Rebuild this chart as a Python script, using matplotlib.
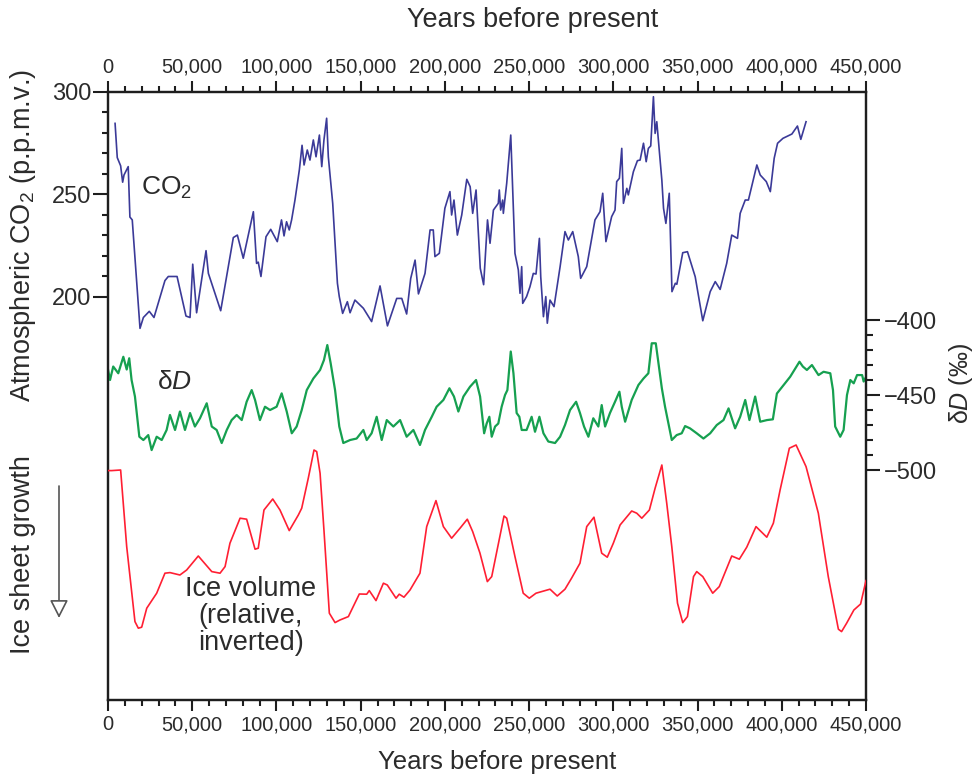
import numpy as np
import matplotlib
matplotlib.use("Agg")
import matplotlib.pyplot as plt
from matplotlib.ticker import FuncFormatter

plt.rcParams['font.family'] = ['Liberation Sans', 'DejaVu Sans']
plt.rcParams['mathtext.fontset'] = 'custom'
plt.rcParams['mathtext.rm'] = 'Liberation Sans'
plt.rcParams['mathtext.it'] = 'Liberation Sans:italic'

# --- data ---
# CO2, Vostok (kyr BP, ppmv)
co2_kyr = [4.2, 5.5, 7.5, 8.7, 9.5, 12.0, 13.0, 14.4, 19.0, 21.0, 24.5, 27.3, 33.8, 35.8,
           41.0, 46.3, 48.7, 50.3, 52.6, 58.2, 59.6, 66.9, 74.4, 76.8, 80.3, 86.3, 88.2,
           89.2, 90.8, 93.8, 96.6, 100.5, 103.0, 104.5, 106.0, 107.6, 109.0, 111.0, 113.6,
           115.2, 116.4, 118.3, 119.9, 121.9, 123.5, 125.5, 126.9, 128.2, 129.8, 130.8,
           133.4, 136.2, 137.3, 139.3, 142.1, 143.7, 146.6, 151.6, 156.5, 161.5, 165.9,
           171.4, 174.4, 177.3, 179.7, 182.3, 184.3, 188.2, 191.2, 193.1, 194.1, 196.7,
           200.0, 203.0, 204.0, 205.4, 207.4, 210.0, 213.0, 215.0, 216.5, 218.5, 221.0,
           223.0, 225.3, 226.8, 228.8, 231.7, 232.3, 233.1, 234.3, 234.7, 236.7, 239.1,
           241.6, 243.6, 244.6, 245.6, 246.2, 248.5, 250.5, 252.5, 254.1, 256.1, 256.9,
           258.5, 259.9, 260.8, 262.4, 264.8, 268.4, 271.3, 273.3, 275.9, 279.2, 280.6,
           284.2, 289.1, 292.1, 293.7, 295.6, 299.0, 301.0, 302.0, 303.6, 305.0, 306.0,
           308.0, 308.9, 311.9, 314.3, 315.9, 317.9, 319.5, 320.8, 322.2, 323.8, 324.8,
           325.8, 328.8, 329.8, 331.2, 333.2, 334.8, 336.8, 337.7, 341.2, 344.0, 348.6,
           353.1, 357.5, 360.5, 363.4, 367.3, 370.3, 373.7, 375.3, 378.3, 380.2, 385.2,
           387.2, 390.8, 393.2, 395.5, 397.5, 400.7, 406.0, 409.3, 411.3, 414.4]
co2_ppm = [284.7, 268, 264, 256, 259.5, 263.6, 239, 237.6, 184.7, 190, 193, 190, 208, 210,
           210, 190.7, 190, 216, 192.3, 222.6, 211.5, 193.3, 229, 230.2, 218.9, 241.6, 216.4,
           217, 210, 229.4, 233, 227, 237.6, 229.8, 236.7, 232.7, 237.6, 247.3, 262,
           274, 264.4, 271.7, 266.8, 276.6, 268.4, 279, 263.6, 276.6, 287.2, 268.4,
           245.7, 206.7, 200.2, 192, 197.7, 192.3, 198.5, 194.5, 188, 205.4, 185.9,
           199.3, 199.3, 191.7, 209, 218, 201.5, 211.5, 232.7, 232.7, 219.7, 221.3,
           243.3, 251.4, 240, 247.3, 230.2, 240, 257.4, 253.8, 240.8, 252.2, 214,
           206, 237.6, 226.2, 242.4, 245.7, 252.2, 242.4, 247.3, 240.8, 255.5, 279,
           221.3, 213.2, 201.8, 214.8, 196.9, 200.2, 205, 211.5, 211.2, 228.6, 209.9,
           190.4, 200.2, 187.2, 198.5, 195.3, 214.8, 231.9, 227.8, 231.9, 219.7, 209.1,
           214.8, 237.6, 241.6, 250.6, 227, 239.2, 242.4, 256.3, 257.9, 272.5, 245.7,
           253, 249.8, 261.1, 266.5, 266.8, 275, 266, 272.5, 273.7, 297.7, 279.8,
           285.5, 257, 243.3, 235.9, 250.6, 202.6, 206.7, 206.2, 221.6, 222.1, 209.9,
           188.4, 202.6, 207.5, 203.7, 216.4, 230.2, 228.6, 240.8, 247.3, 247.3, 264.4,
           259.5, 256.3, 251.4, 267.7, 275, 277.4, 279.5, 283.4, 276.9, 285.5]

# deuterium (kyr BP, per mil)
dd_kyr = [0.0, 1.2, 3.1, 6.1, 9.1, 11.1, 12.6, 14.0, 16.0, 18.6, 21.0, 23.9, 25.9, 28.9,
          31.9, 34.8, 36.8, 39.8, 42.7, 45.7, 48.7, 51.6, 54.6, 58.6, 61.6, 64.5, 67.5,
          70.5, 73.4, 76.4, 79.4, 82.3, 85.3, 87.3, 90.2, 93.2, 96.2, 100.1, 103.1, 106.1,
          109.1, 112.0, 115.0, 118.0, 121.9, 125.9, 128.2, 130.2, 132.2, 134.8, 137.3,
          139.7, 143.7, 147.6, 151.6, 153.6, 156.5, 159.5, 162.5, 165.5, 169.4, 173.4,
          177.3, 181.3, 185.2, 188.2, 192.2, 195.1, 199.1, 202.7, 205.4, 208.0, 211.0,
          214.9, 218.5, 220.9, 223.3, 224.8, 226.4, 227.8, 229.8, 231.7, 233.7, 235.7,
          237.1, 239.1, 240.7, 242.6, 244.2, 245.6, 248.5, 251.5, 253.5, 256.1, 258.5,
          261.4, 265.4, 268.4, 271.3, 274.3, 277.9, 280.2, 282.6, 285.2, 288.1, 291.1,
          293.1, 295.1, 298.0, 301.0, 303.6, 305.0, 307.0, 310.9, 314.9, 317.9, 320.8,
          322.8, 325.2, 326.8, 328.8, 330.7, 334.7, 337.6, 340.6, 342.6, 345.5, 349.5,
          353.5, 357.5, 361.4, 365.4, 368.4, 372.3, 375.3, 378.3, 380.8, 384.2, 387.2,
          391.2, 394.7, 397.1, 401.1, 405.0, 410.5, 412.5, 414.9, 417.9, 421.8, 424.8,
          428.8, 430.4, 431.7, 434.7, 436.7, 438.7, 440.7, 442.7, 444.7, 447.7, 448.6, 450.0]
dd_val = [-433, -440, -431, -435.5, -424.5, -433, -425.5, -440, -451, -477.8, -480, -476.7,
          -486.7, -477.8, -480, -473.3, -463.3, -473.3, -461, -473.3, -462, -471, -465.5,
          -455.5, -471, -473.3, -482, -473.3, -466.7, -463.3, -466.7, -454.5, -446.7,
          -453.3, -466.7, -457.8, -460, -457.8, -448.9, -461, -475.5, -471, -460, -446.7,
          -439, -433.3, -426.7, -416.7, -428.9, -446.7, -471, -482, -480, -479, -473.3,
          -480, -475.5, -464.5, -480, -466.7, -471, -466.7, -477.8, -473.3, -483.3,
          -473.3, -464.5, -457.8, -453.3, -445.5, -451, -461, -451, -444.5, -440, -451,
          -475.5, -469, -464.5, -477.8, -471, -469, -457.8, -450, -446.7, -421, -435.5,
          -462, -464.5, -473.3, -473.3, -464.5, -474.5, -464.5, -475.5, -481, -482,
          -477.8, -470, -460, -454.5, -462, -471, -477.8, -465.5, -471, -456.7, -471,
          -462, -454.5, -447.8, -457.8, -467.8, -453.3, -443.3, -439, -435.5, -415.5,
          -415.5, -428.9, -445.5, -457.8, -480, -476.7, -475.5, -470.7, -472.2, -475.5,
          -479, -475.5, -470, -466.7, -458.9, -472.2, -464.5, -453.3, -466.7, -451,
          -467.8, -466.7, -466.2, -449, -443.3, -437.8, -427.8, -431, -433.3, -430,
          -436.7, -434.5, -435.5, -446.7, -471, -477.8, -473.3, -450, -440, -442.2,
          -436.7, -436.7, -441, -438]

# ice volume, relative and inverted (arbitrary units)
ice_kyr = [0.0, 2.2, 7.5, 11.1, 16.0, 18.0, 20.0, 23.0, 28.9, 33.8, 36.8, 42.7, 46.7, 53.6,
           61.6, 66.5, 69.5, 72.4, 78.4, 82.3, 87.3, 89.2, 92.6, 97.8, 102.1, 107.6, 113.0,
           115.0, 118.9, 122.3, 123.9, 125.9, 128.2, 131.4, 134.8, 137.7, 142.7, 149.2,
           153.6, 155.1, 159.1, 163.5, 165.8, 171.0, 172.9, 175.7, 179.3, 185.2, 189.2,
           194.7, 199.1, 204.0, 209.0, 213.3, 216.5, 220.8, 225.2, 227.8, 235.1, 236.7,
           241.6, 246.5, 250.1, 254.1, 262.4, 266.7, 271.3, 275.2, 280.2, 284.2, 288.5,
           293.1, 296.4, 300.0, 304.0, 310.9, 313.9, 316.9, 321.4, 324.8, 328.8, 331.7,
           334.7, 338.1, 341.2, 344.0, 347.6, 349.5, 353.1, 359.0, 362.9, 370.3, 374.8,
           379.2, 384.7, 391.1, 395.0, 399.0, 404.5, 408.5, 414.4, 421.7, 427.6, 433.6,
           435.5, 438.5, 442.8, 446.8, 450.0]
ice_rel = [84.7, 84.7, 85, 46.7, 9.2, 5.9, 6.4, 15.9, 23.4, 33.4, 33.7, 32.5, 35, 42,
           34.2, 33.4, 36.7, 48.4, 60.9, 60.4, 45.4, 45.9, 65, 70.5, 65, 54.7, 62.5,
           65.9, 80.9, 95, 94.2, 83.4, 55, 13.4, 8.7, 10, 11.7, 23,
           22.9, 24.7, 19.7, 28.4, 27.5, 20.9, 22.9, 21.4, 25, 33.4, 56.7,
           69.7, 56.7, 50.9, 55.9, 60.4, 54.2, 43.5, 29.2, 31.7, 62, 60.9,
           41.7, 23.4, 20.9, 23.4, 25.4, 22, 25.4, 30.9, 38.4, 56.7, 61.4,
           43.4, 41.4, 48.4, 57.5, 64.5, 63.4, 60.9, 65, 75.9, 87.5, 68.4,
           46.7, 18.4, 8.7, 11.7, 31.7, 34.2, 31.7, 23.4, 26.7, 42, 40.4,
           46.4, 56.7, 51.4, 58.4, 75, 95.9, 97.5, 86.7, 63.4, 31.7, 5.4,
           4.2, 8.4, 15, 18, 29.7]

xticks = [0, 50000, 100000, 150000, 200000, 250000, 300000, 350000, 400000, 450000]
co2_ticks = [200, 250, 300]
dd_ticks = [-500, -450, -400]

# colours
c_co2 = '#3b3a98'
c_dd = '#16a050'
c_ice = '#ff1f33'
c_txt = '#2b2b2b'
c_ax = '#1e1e1e'

W, H = 978, 778
fig = plt.figure(figsize=(W / 100, H / 100), dpi=100)
x0, x1, y0, y1 = 108, 866, 92, 700
ax = fig.add_axes([x0 / W, 1 - y1 / H, (x1 - x0) / W, (y1 - y0) / H])

yrs = lambda k: np.array(k) * 1000

ax.plot(yrs(co2_kyr), co2_ppm, color=c_co2, lw=1.2, zorder=3)
ax.set_xlim(0, 450000)
ax.set_ylim(3.4, 300)

ax2 = ax.twinx()
ax2.plot(yrs(dd_kyr), dd_val, color=c_dd, lw=1.6)
ax2.set_ylim(-653.3, -248)

ax3 = ax.twinx()
ax3.plot(yrs(ice_kyr), ice_rel, color=c_ice, lw=1.2)
ax3.set_ylim(-30, 274)
ax3.axis('off')

for a in (ax, ax2):
    for s in a.spines.values():
        s.set_linewidth(1.6)
        s.set_color(c_ax)

# x axis: both top and bottom
ax.set_xticks(xticks)
ax.set_xticks(np.arange(0, 450001, 10000), minor=True)
ax.xaxis.set_major_formatter(FuncFormatter(lambda v, p: '{:,}'.format(int(v))))
ax.tick_params(axis='x', which='both', top=True, labeltop=True, bottom=True,
               direction='out', width=1.5, color=c_ax, labelsize=14.5,
               labelcolor=c_txt)
ax.tick_params(axis='x', which='major', length=8, pad=3)
ax.tick_params(axis='x', which='minor', length=4.5)

# left CO2 axis
ax.set_yticks(co2_ticks)
ax.set_yticks(np.arange(200, 301, 10), minor=True)
ax.tick_params(axis='y', which='both', direction='out', width=1.5, color=c_ax,
               labelsize=17, labelcolor=c_txt)
ax.tick_params(axis='y', which='major', length=11, pad=1)
ax.tick_params(axis='y', which='minor', length=4.5)

# right dD axis
ax2.set_yticks(dd_ticks)
ax2.set_yticks(np.arange(-500, -399, 10), minor=True)
ax2.tick_params(axis='y', which='both', direction='out', width=1.5, color=c_ax,
                labelsize=17, labelcolor=c_txt)
ax2.tick_params(axis='y', which='major', length=10, pad=3)
ax2.tick_params(axis='y', which='minor', length=5)

# axis titles
fig.text(533 / W, 1 - 20 / H, 'Years before present', ha='center', va='center',
         fontsize=19.5, color=c_txt)
fig.text(497 / W, 1 - 762 / H, 'Years before present', ha='center', va='center',
         fontsize=18.5, color=c_txt)
fig.text(23 / W, 1 - 236 / H, 'Atmospheric CO$_2$ (p.p.m.v.)', rotation=90,
         ha='center', va='center', fontsize=19.5, color=c_txt)
fig.text(23 / W, 1 - 555 / H, 'Ice sheet growth', rotation=90,
         ha='center', va='center', fontsize=19.5, color=c_txt)
fig.text(961 / W, 1 - 383 / H, 'δ$D$ (‰)', rotation=90,
         ha='center', va='center', fontsize=18, color=c_txt)

# in-plot labels
ax.text((167 - x0) / (x1 - x0), (y1 - 188) / (y1 - y0), 'CO$_2$', transform=ax.transAxes,
        ha='center', va='center', fontsize=19, color=c_txt)
ax.text((174 - x0) / (x1 - x0), (y1 - 382) / (y1 - y0), 'δ$D$', transform=ax.transAxes,
        ha='center', va='center', fontsize=19, color=c_txt)
ax.text((251 - x0) / (x1 - x0), (y1 - 616) / (y1 - y0), 'Ice volume\n(relative,\ninverted)',
        transform=ax.transAxes, ha='center', va='center', fontsize=19.5,
        color=c_txt, linespacing=1.05, zorder=5)

# ice sheet growth arrow
fig.add_artist(matplotlib.patches.FancyArrowPatch(
    (59 / W, 1 - 486 / H), (59 / W, 1 - 618 / H), transform=fig.transFigure,
    arrowstyle='-|>,head_length=0.55,head_width=0.28', mutation_scale=20,
    lw=1.2, ec='#555555', fc='white', shrinkA=0, shrinkB=0))

fig.savefig('out.png', dpi=100)
